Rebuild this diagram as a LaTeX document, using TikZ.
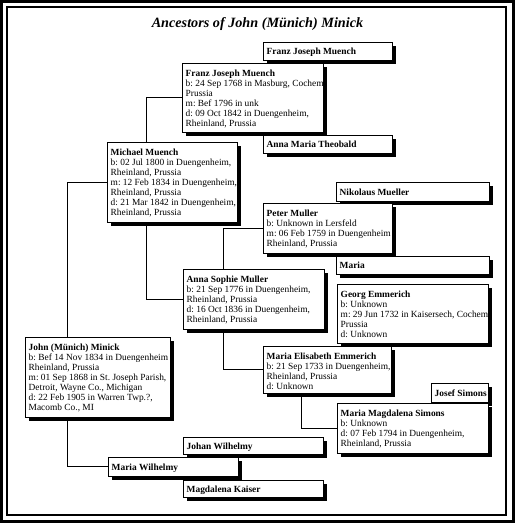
\documentclass[tikz,border=0pt]{standalone}
\usepackage{fontspec}
\setmainfont{Liberation Serif}
\usetikzlibrary{shadows}
\frenchspacing
\newcommand\lns[1]{\begin{tabular}[t]{@{}l@{}}#1\end{tabular}}
\tikzset{
  pbox/.style={draw, line width=0.9pt, fill=white, anchor=north west,
    inner sep=0pt,
    drop shadow={shadow xshift=4pt, shadow yshift=-4pt, fill=black, opacity=1}},
  ptext/.style={anchor=base west, inner sep=0pt, align=left,
    font=\fontsize{9.4}{10}\selectfont\frenchspacing},
  conn/.style={draw, line width=1pt}
}
% multi-line person: name, x, y, w, h, content
\newcommand\pmulti[6]{%
  \node[pbox, minimum width=#4pt, minimum height=#5pt] (#1) at (#2,#3) {};
  \node[ptext] (#1t) at ([xshift=3.5pt,yshift=-13.2pt]#1.north west) {\lns{#6}};
}
% single-line person
\newcommand\pone[6]{%
  \node[pbox, minimum width=#4pt, minimum height=#5pt] (#1) at (#2,#3) {};
  \node[ptext] (#1t) at ([xshift=3.5pt,yshift=-3.3pt]#1.west) {\textbf{#6}};
}
\begin{document}
\begin{tikzpicture}[x=1pt,y=-1pt]
\useasboundingbox (0,0) rectangle (515,525);
\draw[line width=3pt] (1.5,1.5) rectangle (513.5,521.5);
\draw[line width=2pt] (7,7) rectangle (506,515);

\node[font=\fontsize{14.2}{16}\selectfont\bfseries\itshape] (title) at (257.5,24) {Ancestors of John (Münich) Minick};

\pone{fjm1}{263}{42}{129}{18}{Franz Joseph Muench}
\pone{amt}{263}{135}{129}{18}{Anna Maria Theobald}
\pone{nik}{336}{182}{153}{19}{Nikolaus Mueller}
\pone{maria}{336}{256}{153}{18}{Maria}
\pmulti{georg}{337}{284}{151}{59}{\textbf{Georg Emmerich}\\b: Unknown\\m: 29 Jun 1732 in Kaisersech, Cochem\\Prussia\\d: Unknown}
\pone{josef}{431}{383}{57}{19}{Josef Simons}
\pone{johan}{183}{437}{140}{17}{Johan Wilhelmy}
\pone{mk}{183}{480}{140}{17}{Magdalena Kaiser}

\pmulti{fjm}{182}{63}{141}{69}{\textbf{Franz Joseph Muench}\\b: 24 Sep 1768 in Masburg, Cochem\\Prussia\\m: Bef 1796 in unk\\d: 09 Oct 1842 in Duengenheim,\\Rheinland, Prussia}
\pmulti{peter}{263}{203}{129}{50}{\textbf{Peter Muller}\\b: Unknown in Lersfeld\\m: 06 Feb 1759 in Duengenheim\\Rheinland, Prussia}
\pmulti{mms}{337}{403}{151}{50}{\textbf{Maria Magdalena Simons}\\b: Unknown\\d: 07 Feb 1794 in Duengenheim,\\Rheinland, Prussia}

\draw[conn] (peter.west) -| ([xshift=40pt]peter.west -| 183,0) coordinate (asx);
\pmulti{mee}{263}{346}{128}{47}{\textbf{Maria Elisabeth Emmerich}\\b: 21 Sep 1733 in Duengenheim,\\Rheinland, Prussia\\d: Unknown}
\draw[conn] ([xshift=38pt]mee.south west) |- (mms.west);

\draw[conn] (asx) |- (mee.west);
\pmulti{asm}{183}{269}{141}{60}{\textbf{Anna Sophie Muller}\\b: 21 Sep 1776 in Duengenheim,\\Rheinland, Prussia\\d: 16 Oct 1836 in Duengenheim,\\Rheinland, Prussia}

\draw[conn] (fjm.west) -| ([xshift=39pt]asm.west -| 107,0) |- (asm.west);
\pmulti{michael}{107}{142}{130}{80}{\textbf{Michael Muench}\\b: 02 Jul 1800 in Duengenheim,\\Rheinland, Prussia\\m: 12 Feb 1834 in Duengenheim,\\Rheinland, Prussia\\d: 21 Mar 1842 in Duengenheim,\\Rheinland, Prussia}

\pone{mw}{108}{457}{130}{19}{Maria Wilhelmy}
\draw[conn] (michael.west) -| ([xshift=42pt]mw.west -| 25,0) |- (mw.west);
\pmulti{john}{25}{337}{145}{80}{\textbf{John (Münich) Minick}\\b: Bef 14 Nov 1834 in Duengenheim\\Rheinland, Prussia\\m: 01 Sep 1868 in St. Joseph Parish,\\Detroit, Wayne Co., Michigan\\d: 22 Feb 1905 in Warren Twp.?,\\Macomb Co., MI}
\end{tikzpicture}
\end{document}
